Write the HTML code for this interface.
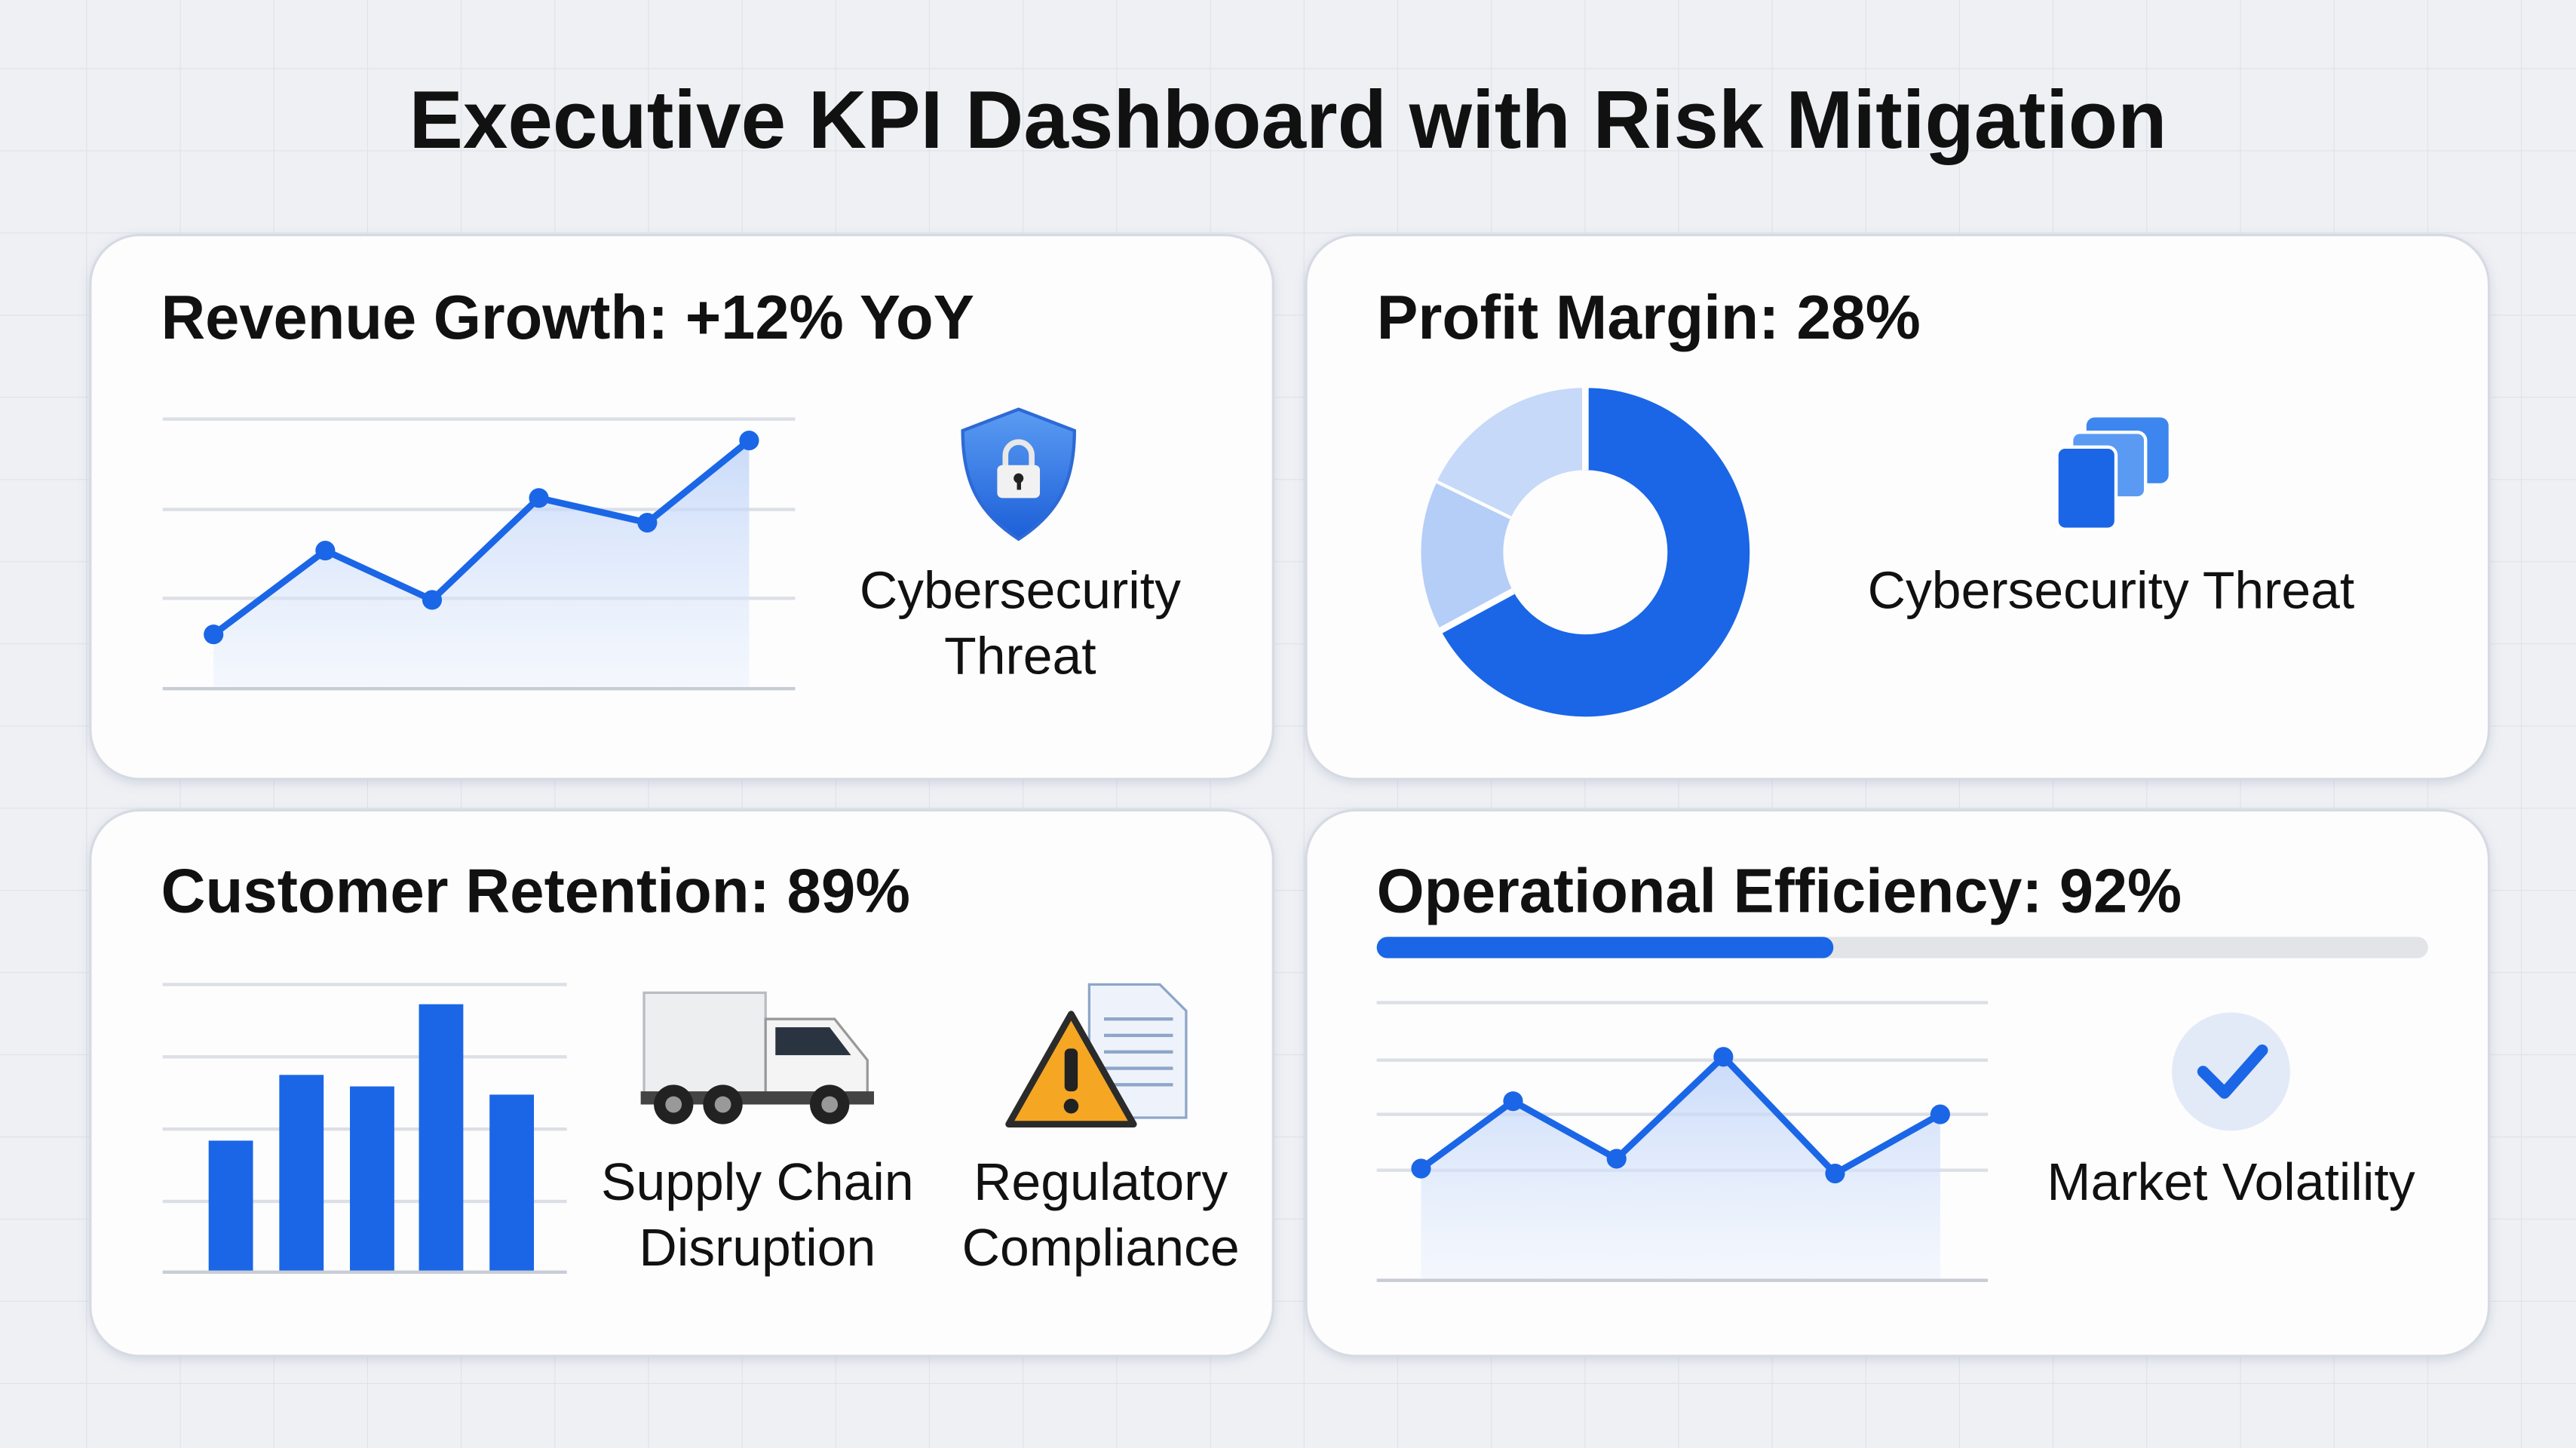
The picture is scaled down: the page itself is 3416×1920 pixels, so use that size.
<!DOCTYPE html>
<html><head><meta charset="utf-8"><style>
html,body{margin:0;padding:0;width:3416px;height:1920px;overflow:hidden;background:#eef0f4;}
svg{display:block}
text{font-family:"Liberation Sans",sans-serif;}
</style></head><body>
<svg width="3416" height="1920" viewBox="0 0 1568 881" preserveAspectRatio="none" xmlns="http://www.w3.org/2000/svg">
<defs>
<pattern id="grid" width="57" height="50" patternUnits="userSpaceOnUse" x="-4" y="-8">
<path d="M57 0V50M0 50H57" stroke="#dde2ea" stroke-width="1" fill="none"/>
</pattern>
<linearGradient id="af" x1="0" y1="0" x2="0" y2="1"><stop offset="0" stop-color="#bcd2f8" stop-opacity=".8"/><stop offset="1" stop-color="#e6eefc" stop-opacity=".4"/></linearGradient>
<linearGradient id="sh" x1="0" y1="0" x2="0" y2="1"><stop offset="0" stop-color="#5b9cf2"/><stop offset="1" stop-color="#1c5fd8"/></linearGradient>
<filter id="ds" x="-5%" y="-5%" width="110%" height="115%"><feDropShadow dx="0" dy="2" stdDeviation="3" flood-color="#8090a8" flood-opacity=".25"/></filter>
</defs>
<rect width="1568" height="881" fill="#eef0f4"/>
<rect width="1568" height="881" fill="url(#grid)"/>
<text x="784" y="90" text-anchor="middle" font-size="50" font-weight="bold" fill="#111" textLength="1070" lengthAdjust="spacingAndGlyphs">Executive KPI Dashboard with Risk Mitigation</text>

<g fill="#fdfdfe" stroke="#d6dae2" stroke-width="1.5" filter="url(#ds)">
<rect x="55" y="143" width="720" height="331" rx="30"/>
<rect x="795" y="143" width="720" height="331" rx="30"/>
<rect x="55" y="493" width="720" height="332" rx="30"/>
<rect x="795" y="493" width="720" height="332" rx="30"/>
</g>

<!-- TL -->
<text x="98" y="206" font-size="38" font-weight="bold" fill="#111" textLength="495" lengthAdjust="spacingAndGlyphs">Revenue Growth: +12% YoY</text>
<g stroke="#dcdfe5" stroke-width="2"><line x1="99" y1="255" x2="484" y2="255"/><line x1="99" y1="310" x2="484" y2="310"/><line x1="99" y1="364" x2="484" y2="364"/></g>
<path d="M130 386L198 335L263 365L328 303L394 318L456 268V419H130Z" fill="url(#af)"/>
<line x1="99" y1="419" x2="484" y2="419" stroke="#c8ccd4" stroke-width="2"/>
<polyline points="130,386 198,335 263,365 328,303 394,318 456,268" fill="none" stroke="#1a66e6" stroke-width="4" stroke-linejoin="round"/>
<g fill="#1a66e6"><circle cx="130" cy="386" r="6"/><circle cx="198" cy="335" r="6"/><circle cx="263" cy="365" r="6"/><circle cx="328" cy="303" r="6"/><circle cx="394" cy="318" r="6"/><circle cx="456" cy="268" r="6"/></g>
<path d="M620 249L654 262C654 295 643 313 620 328C597 313 586 295 586 262Z" fill="url(#sh)" stroke="#2d6ad6" stroke-width="2"/>
<path d="M612 284v-7a8 8 0 0 1 16 0v7" fill="none" stroke="#e8e8e8" stroke-width="3.5"/>
<rect x="607" y="283" width="26" height="20" rx="3" fill="#f1f1f1"/>
<circle cx="620" cy="291" r="3" fill="#222"/><rect x="619" y="292" width="2.5" height="6" fill="#222"/>
<text x="621" y="370" text-anchor="middle" font-size="32" fill="#111">Cybersecurity</text>
<text x="621" y="410" text-anchor="middle" font-size="32" fill="#111">Threat</text>

<!-- TR -->
<text x="838" y="206" font-size="38" font-weight="bold" fill="#111" textLength="331" lengthAdjust="spacingAndGlyphs">Profit Margin: 28%</text>
<g transform="translate(965,336)">
<circle r="75" fill="none" stroke="#b5cef7" stroke-width="50"/>
<path d="M0 -100A100 100 0 1 1 -88.0 47.5L-44.0 23.7A50 50 0 1 0 0 -50Z" fill="#1a66e6"/>
<g stroke="#fff" stroke-width="4"><line x1="0" y1="-50" x2="0" y2="-101"/><line x1="-44" y1="23.7" x2="-88.5" y2="47.8"/><line x1="-45" y1="-21.9" x2="-90" y2="-43.8"/></g>
<path d="M-45 -21.9L-90 -43.8A100 100 0 0 1 -2 -100L-2 -50A50 50 0 0 0 -45 -21.9Z" fill="#c6d9f9"/>
</g>
<rect x="1270" y="254" width="50" height="40" rx="5" fill="#3d86f0"/>
<rect x="1261" y="263" width="45" height="40" rx="5" fill="#5a9af3" stroke="#fff" stroke-width="2"/>
<rect x="1252" y="272" width="36" height="50" rx="5" fill="#1a66e6" stroke="#fff" stroke-width="2"/>
<text x="1285" y="370" text-anchor="middle" font-size="32" fill="#111">Cybersecurity Threat</text>

<!-- BL -->
<text x="98" y="555" font-size="38" font-weight="bold" fill="#111" textLength="456" lengthAdjust="spacingAndGlyphs">Customer Retention: 89%</text>
<g stroke="#dcdfe5" stroke-width="2"><line x1="99" y1="599" x2="345" y2="599"/><line x1="99" y1="643" x2="345" y2="643"/><line x1="99" y1="687" x2="345" y2="687"/><line x1="99" y1="731" x2="345" y2="731"/></g>
<g fill="#1a66e6"><rect x="127" y="694" width="27" height="80"/><rect x="170" y="654" width="27" height="120"/><rect x="213" y="661" width="27" height="113"/><rect x="255" y="611" width="27" height="163"/><rect x="298" y="666" width="27" height="108"/></g>
<line x1="99" y1="774" x2="345" y2="774" stroke="#c8ccd4" stroke-width="2"/>
<!-- truck -->
<rect x="392" y="604" width="74" height="62" fill="#eceef0" stroke="#b8bcc2" stroke-width="1.5"/>
<path d="M466 620H508L528 645V668H466Z" fill="#f4f4f4" stroke="#999" stroke-width="1.5"/>
<path d="M472 625H505L518 642H472Z" fill="#2a3340"/>
<rect x="390" y="664" width="142" height="8" fill="#444"/>
<g fill="#222"><circle cx="410" cy="672" r="12"/><circle cx="440" cy="672" r="12"/><circle cx="505" cy="672" r="12"/></g>
<g fill="#999"><circle cx="410" cy="672" r="5"/><circle cx="440" cy="672" r="5"/><circle cx="505" cy="672" r="5"/></g>
<!-- doc + warning -->
<path d="M663 599H706L722 615V680H663Z" fill="#eef3fb" stroke="#8ea6c8" stroke-width="1.5"/>
<g stroke="#8ea6c8" stroke-width="2"><line x1="672" y1="620" x2="714" y2="620"/><line x1="672" y1="630" x2="714" y2="630"/><line x1="672" y1="640" x2="714" y2="640"/><line x1="672" y1="650" x2="714" y2="650"/><line x1="672" y1="660" x2="714" y2="660"/></g>
<path d="M652 617L690 684H614Z" fill="#f5a623" stroke="#2b2b2b" stroke-width="4" stroke-linejoin="round"/>
<rect x="648" y="638" width="8" height="26" rx="3" fill="#222"/><circle cx="652" cy="673" r="4.5" fill="#222"/>
<text x="461" y="730" text-anchor="middle" font-size="32" fill="#111">Supply Chain</text>
<text x="461" y="770" text-anchor="middle" font-size="32" fill="#111">Disruption</text>
<text x="670" y="730" text-anchor="middle" font-size="32" fill="#111">Regulatory</text>
<text x="670" y="770" text-anchor="middle" font-size="32" fill="#111">Compliance</text>

<!-- BR -->
<text x="838" y="555" font-size="38" font-weight="bold" fill="#111" textLength="490" lengthAdjust="spacingAndGlyphs">Operational Efficiency: 92%</text>
<rect x="838" y="570" width="640" height="13" rx="6.5" fill="#e2e4e8"/>
<rect x="838" y="570" width="278" height="13" rx="6.5" fill="#1a66e6"/>
<g stroke="#dcdfe5" stroke-width="2"><line x1="838" y1="610" x2="1210" y2="610"/><line x1="838" y1="645" x2="1210" y2="645"/><line x1="838" y1="678" x2="1210" y2="678"/><line x1="838" y1="712" x2="1210" y2="712"/></g>
<path d="M865 711L921 670L984 705L1049 643L1117 714L1181 678V779H865Z" fill="url(#af)"/>
<line x1="838" y1="779" x2="1210" y2="779" stroke="#c8ccd4" stroke-width="2"/>
<polyline points="865,711 921,670 984,705 1049,643 1117,714 1181,678" fill="none" stroke="#1a66e6" stroke-width="4" stroke-linejoin="round"/>
<g fill="#1a66e6"><circle cx="865" cy="711" r="6"/><circle cx="921" cy="670" r="6"/><circle cx="984" cy="705" r="6"/><circle cx="1049" cy="643" r="6"/><circle cx="1117" cy="714" r="6"/><circle cx="1181" cy="678" r="6"/></g>
<circle cx="1358" cy="652" r="36" fill="#e2eaf8"/>
<path d="M1341 652L1354 665L1377 639" fill="none" stroke="#1a66e6" stroke-width="7" stroke-linecap="round" stroke-linejoin="round"/>
<text x="1358" y="730" text-anchor="middle" font-size="32" fill="#111">Market Volatility</text>
</svg>
</body></html>
